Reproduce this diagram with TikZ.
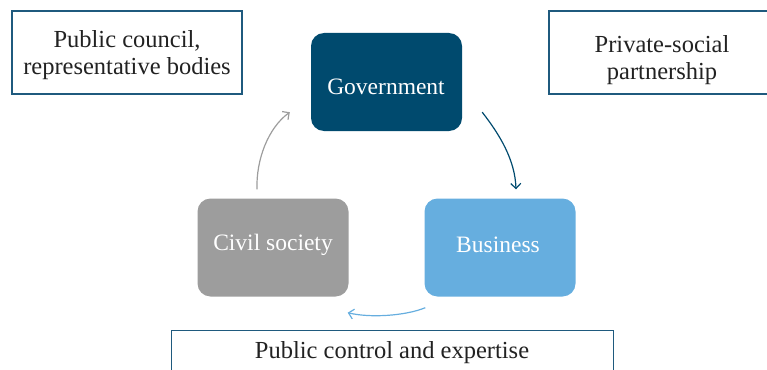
\documentclass[tikz,border=0pt]{standalone}
\usepackage{fontspec}
\setmainfont{Liberation Serif}
\usetikzlibrary{arrows.meta}
\definecolor{govblue}{HTML}{004A6E}
\definecolor{busblue}{HTML}{66AEDF}
\definecolor{civgray}{HTML}{9D9D9D}
\definecolor{edgeblue}{HTML}{1F5A7E}
\definecolor{txt}{HTML}{222222}
\begin{document}
\begin{tikzpicture}[x=1pt,y=-1pt,
  actor/.style={rounded corners=13pt, minimum width=151pt, minimum height=98pt, inner sep=0pt},
  actortext/.style={text=white, font=\fontsize{23.5}{27}\selectfont, inner sep=0pt},
  label box/.style={draw=edgeblue, line width=1.1pt, fill=white, inner sep=0pt},
  boxtext/.style={text=txt, font=\fontsize{24.5}{27}\selectfont, align=center, inner sep=0pt},
  flow/.style={line width=1.2pt, -{Straight Barb[length=5pt,width=10pt]}}
]
\useasboundingbox (0,0) rectangle (767,369);
\node[label box, minimum width=230pt, minimum height=83pt] (council) at (127,52.5) {};
\node[boxtext] (counciltxt) at (127,55) {Public council,\\representative bodies};
\node[label box, minimum width=222pt, minimum height=83pt] (psp) at (660,52.5) {};
\node[boxtext] (psptxt) at (662,60) {Private-social\\partnership};
\node[label box, minimum width=442pt, minimum height=60pt, anchor=north west] (ctrl) at (171,330) {};
\node[boxtext] (ctrltxt) at (392,353) {Public control and expertise};
\node[actor, fill=govblue] (gov) at (386.5,82) {};
\node[actortext] (govtxt) at (386,87) {Government};
\node[actor, fill=busblue] (bus) at (500,247.5) {};
\node[actortext] (bustxt) at (498,245) {Business};
\node[actor, fill=civgray] (civ) at (273,247.5) {};
\node[actortext] (civtxt) at (273,245) {Civil society};
\coordinate (g1) at ([xshift=20pt,yshift=19pt]gov.south east);
\coordinate (b1) at ([xshift=16pt,yshift=9pt]bus.north);
\coordinate (b2) at ([xshift=1pt,yshift=-11pt]bus.south west);
\coordinate (c2) at ([xshift=-1pt,yshift=-16pt]civ.south east);
\coordinate (c1) at ([xshift=-16pt,yshift=9pt]civ.north);
\coordinate (g2) at ([xshift=-21pt,yshift=19pt]gov.south west);
\draw[flow, draw=govblue] (g1) .. controls (500,135) and (515,160) .. (b1);
\draw[flow, draw=busblue] (b2) .. controls (405,316) and (370,318) .. (c2);
\draw[flow, draw=civgray] (c1) .. controls (256,160) and (268,128) .. (g2);
\end{tikzpicture}
\end{document}
